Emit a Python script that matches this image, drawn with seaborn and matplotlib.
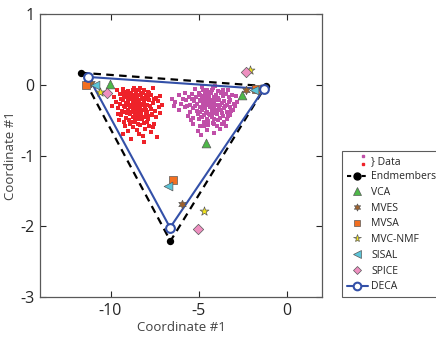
import numpy as np
import pandas as pd
import matplotlib
matplotlib.use("Agg")
import matplotlib.pyplot as plt
import seaborn as sns
from matplotlib.lines import Line2D
from matplotlib.legend_handler import HandlerBase

# ---- data ----
red_pts = [(-9.31,-0.06),(-9.02,-0.09),(-8.68,-0.04),(-8.41,-0.08),(-8.12,-0.07),(-7.83,-0.11),(-9.62,-0.08),(-8.55,-0.12),(-7.58,-0.05),
    (-9.82,-0.17),(-9.48,-0.13),(-9.22,-0.18),(-9.06,-0.15),(-8.91,-0.19),(-8.77,-0.14),(-8.62,-0.17),(-8.47,-0.16),(-8.29,-0.13),(-8.14,-0.19),
    (-7.98,-0.15),(-7.86,-0.18),(-7.69,-0.14),(-7.44,-0.19),(-7.18,-0.16),
    (-9.71,-0.24),(-9.44,-0.27),(-9.29,-0.22),(-9.13,-0.26),(-8.98,-0.23),(-8.86,-0.28),(-8.72,-0.21),(-8.58,-0.25),(-8.49,-0.29),(-8.38,-0.22),
    (-8.24,-0.27),(-8.09,-0.24),(-7.94,-0.29),(-7.79,-0.22),(-7.61,-0.26),(-7.33,-0.23),(-7.08,-0.28),
    (-9.58,-0.33),(-9.36,-0.37),(-9.16,-0.32),(-8.99,-0.36),(-8.83,-0.31),(-8.69,-0.38),(-8.56,-0.34),(-8.44,-0.39),(-8.31,-0.32),(-8.19,-0.36),
    (-8.04,-0.33),(-7.91,-0.38),(-7.72,-0.34),(-7.49,-0.37),(-7.27,-0.31),
    (-9.38,-0.43),(-9.12,-0.47),(-8.91,-0.42),(-8.71,-0.46),(-8.54,-0.44),(-8.39,-0.49),(-8.26,-0.41),(-8.08,-0.45),(-7.88,-0.48),(-7.66,-0.43),(-7.41,-0.46),
    (-9.21,-0.53),(-8.88,-0.56),(-8.62,-0.52),(-8.34,-0.57),(-8.11,-0.54),(-7.81,-0.58),(-7.52,-0.55),
    (-9.02,-0.66),(-8.49,-0.64),(-8.18,-0.72),(-7.71,-0.67),(-7.34,-0.74),(-8.86,-0.77),(-8.08,-0.81),(-9.3,-0.69),
    (-8.8,-0.2),(-8.65,-0.3),(-8.52,-0.19),(-8.35,-0.33),(-8.6,-0.41),(-8.92,-0.3),(-8.2,-0.2),(-8.45,-0.25),(-8.75,-0.36),(-8.33,-0.44),
    (-9.05,-0.4),(-8.0,-0.41),(-9.1,-0.1),(-8.58,-0.07),(-7.95,-0.52),(-9.5,-0.5),(-7.2,-0.4),(-9.9,-0.3),
    (-9.25,-0.3),(-9.0,-0.2),(-8.82,-0.11),(-8.7,-0.26),(-8.5,-0.36),(-8.4,-0.14),(-8.27,-0.38),(-8.15,-0.29),(-8.02,-0.2),(-7.9,-0.1),
    (-7.75,-0.3),(-7.55,-0.2),(-7.65,-0.41),(-8.95,-0.5),(-8.76,-0.52),(-8.45,-0.55),(-8.22,-0.48),(-8.6,-0.15),(-9.18,-0.38),(-9.4,-0.2),
    (-9.55,-0.41),(-9.05,-0.28),(-8.88,-0.39),(-8.63,-0.47),(-8.36,-0.28),(-8.13,-0.12),(-7.98,-0.35),(-7.85,-0.44),(-8.48,-0.42),(-8.97,-0.13),
    (-9.27,-0.11),(-8.73,-0.08),(-8.3,-0.05),(-8.05,-0.62),(-8.7,-0.6),(-9.15,-0.58),(-7.6,-0.6),(-8.4,-0.7)]

mag_pts = [(-5.2,-0.06),(-4.8,-0.03),(-4.5,-0.08),(-4.2,-0.05),(-3.9,-0.09),(-3.6,-0.07),(-4.65,-0.1),(-4.05,-0.02),(-3.35,-0.08),
    (-6.1,-0.15),(-5.8,-0.12),(-5.55,-0.18),(-5.35,-0.13),(-5.15,-0.17),(-4.98,-0.11),(-4.82,-0.16),(-4.67,-0.19),(-4.53,-0.13),(-4.41,-0.17),
    (-4.28,-0.12),(-4.15,-0.18),(-4.02,-0.14),(-3.88,-0.19),(-3.74,-0.12),(-3.6,-0.16),(-3.45,-0.13),(-3.28,-0.18),(-3.1,-0.14),(-2.9,-0.16),
    (-6.35,-0.24),(-6.0,-0.27),(-5.7,-0.22),(-5.48,-0.28),(-5.27,-0.23),(-5.08,-0.27),(-4.92,-0.21),(-4.77,-0.26),(-4.63,-0.23),(-4.5,-0.29),
    (-4.37,-0.22),(-4.24,-0.27),(-4.11,-0.24),(-3.98,-0.29),(-3.84,-0.21),(-3.7,-0.26),(-3.55,-0.23),(-3.39,-0.28),(-3.2,-0.22),(-3.0,-0.27),(-2.85,-0.24),
    (-6.1,-0.35),(-5.75,-0.32),(-5.5,-0.38),(-5.3,-0.33),(-5.1,-0.37),(-4.94,-0.31),(-4.79,-0.36),(-4.64,-0.33),(-4.51,-0.39),(-4.38,-0.32),
    (-4.25,-0.37),(-4.12,-0.34),(-3.99,-0.38),(-3.86,-0.31),(-3.72,-0.36),(-3.57,-0.33),(-3.41,-0.38),(-3.24,-0.32),(-3.05,-0.36),
    (-5.6,-0.44),(-5.3,-0.47),(-5.05,-0.42),(-4.86,-0.46),(-4.7,-0.43),(-4.55,-0.48),(-4.4,-0.41),(-4.26,-0.45),(-4.1,-0.49),(-3.95,-0.42),
    (-3.78,-0.47),(-3.6,-0.44),(-3.4,-0.48),(-3.2,-0.43),
    (-5.3,-0.55),(-4.95,-0.58),(-4.7,-0.53),(-4.45,-0.57),(-4.2,-0.54),(-3.95,-0.59),(-3.7,-0.55),(-3.45,-0.58),(-5.05,-0.66),(-4.55,-0.64),
    (-4.1,-0.68),(-3.8,-0.62),(-4.85,-0.71),
    (-4.45,-0.26),(-4.3,-0.31),(-4.18,-0.21),(-4.05,-0.28),(-3.92,-0.35),(-4.58,-0.16),(-4.72,-0.3),(-4.86,-0.23),(-4.33,-0.43),(-4.0,-0.18),
    (-3.8,-0.28),(-3.65,-0.4),(-4.15,-0.4),(-4.6,-0.4),(-4.95,-0.38),(-5.2,-0.3),(-5.4,-0.2),(-3.5,-0.3),(-3.3,-0.24),(-4.25,-0.08),
    (-4.75,-0.07),(-5.0,-0.49),(-4.48,-0.51),(-3.88,-0.5),(-3.15,-0.37),(-5.65,-0.3),(-5.9,-0.2),(-4.9,-0.14),(-4.38,-0.1),(-3.7,-0.1),
    (-4.1,-0.56),(-4.68,-0.58),(-5.45,-0.5),(-3.55,-0.52),(-2.95,-0.3),(-4.22,-0.33),(-4.52,-0.2),(-3.96,-0.22),(-4.82,-0.45),(-3.33,-0.44),
    (-6.5,-0.2),(-6.4,-0.3)]

endm_x = [-11.7, -1.2, -6.6]
endm_y = [0.17, -0.02, -2.21]
deca_x = [-11.25, -1.3, -6.62]
deca_y = [0.11, -0.06, -2.02]

methods = ["VCA", "MVES", "MVSA", "MVC-NMF", "SISAL", "SPICE"]
method_x = {
    "VCA": [-10.04, -2.54, -4.56],
    "MVES": [-11.1, -2.3, -5.97],
    "MVSA": [-11.38, -1.73, -6.44],
    "MVC-NMF": [-10.58, -2.1, -4.72],
    "SISAL": [-10.9, -1.84, -6.74],
    "SPICE": [-10.2, -2.34, -5.02],
}
method_y = {
    "VCA": [0.01, -0.14, -0.83],
    "MVES": [0.03, -0.07, -1.69],
    "MVSA": [0.0, -0.06, -1.35],
    "MVC-NMF": [-0.1, 0.21, -1.79],
    "SISAL": [0.0, -0.07, -1.43],
    "SPICE": [-0.12, 0.18, -2.04],
}

colors = {"VCA": "#4DB848", "MVES": "#A0622D", "MVSA": "#F26F21", "MVC-NMF": "#F2E41C",
          "SISAL": "#5BC5D8", "SPICE": "#EE8FC0"}
markers = {"VCA": "^", "MVES": (6, 1, 0), "MVSA": "s", "MVC-NMF": "*", "SISAL": "<", "SPICE": "D"}
sizes = {"VCA": 40, "MVES": 38, "MVSA": 26, "MVC-NMF": 45, "SISAL": 40, "SPICE": 28}
red_c = "#EE2229"
mag_c = "#C04FA8"
blue_c = "#3350A8"

sns.set_style("ticks")
plt.rcParams["font.family"] = ["Open Sans", "DejaVu Sans"]

fig = plt.figure(figsize=(4.36, 3.4), dpi=100)
ax = fig.add_axes([40 / 436, 43 / 340, 282 / 436, 283 / 340])

red_df = pd.DataFrame(red_pts, columns=["x", "y"])
mag_df = pd.DataFrame(mag_pts, columns=["x", "y"])
sns.scatterplot(data=red_df, x="x", y="y", ax=ax, color=red_c, s=5.5, linewidth=0, marker="s", zorder=2)
sns.scatterplot(data=mag_df, x="x", y="y", ax=ax, color=mag_c, s=5.5, linewidth=0, marker="s", zorder=2)

# closed triangles
sns.lineplot(x=endm_x + endm_x[:1], y=endm_y + endm_y[:1], sort=False, estimator=None, ax=ax,
             color="black", lw=1.6, dashes=(3.4, 2.4), zorder=3)
sns.scatterplot(x=endm_x, y=endm_y, ax=ax, color="black", s=28, linewidth=0, zorder=4)
sns.lineplot(x=deca_x + deca_x[:1], y=deca_y + deca_y[:1], sort=False, estimator=None, ax=ax,
             color=blue_c, lw=1.5, zorder=5)

for m in methods:
    sns.scatterplot(x=method_x[m], y=method_y[m], ax=ax, color=colors[m], marker=markers[m],
                    s=sizes[m], edgecolor="0.35", linewidth=0.5, zorder=6)

sns.scatterplot(x=deca_x, y=deca_y, ax=ax, color="white", edgecolor=blue_c, s=40, linewidth=1.5, zorder=7)

ax.set_xlim(-14, 2)
ax.set_ylim(-3, 1)
ax.set_xticks([-10, -5, 0])
ax.set_yticks([1, 0, -1, -2, -3])
ax.set_xticklabels(["-10", "-5", "0"])
ax.set_yticklabels(["1", "0", "-1", "-2", "-3"])
ax.tick_params(direction="in", length=4, width=0.8, labelsize=11.5, colors="0.15", pad=4,
               top=True, right=True)
for sp in ax.spines.values():
    sp.set_color("0.35")
    sp.set_linewidth(0.9)
ax.set_xlabel("Coordinate #1", fontsize=9.5, color="0.25", labelpad=2)
ax.set_ylabel("Coordinate #1", fontsize=9.5, color="0.25", labelpad=2)


class DataHandler(HandlerBase):
    def create_artists(self, legend, orig_handle, xdescent, ydescent, width, height, fontsize, trans):
        x = width * 0.8 - xdescent
        top = Line2D([x], [height * 1.0 - ydescent], marker="s", ms=1.6, color=mag_c, ls="none", transform=trans)
        bot = Line2D([x], [-0.1 * height - ydescent], marker="s", ms=1.6, color=red_c, ls="none", transform=trans)
        return [top, bot]


data_h = object()
handles = [data_h,
           Line2D([], [], color="black", ls=(0, (2.0, 1.5)), lw=1.5, marker="o", ms=5)]
labels = ["} Data", "Endmembers"]
for m in methods:
    handles.append(Line2D([], [], color=colors[m], marker=markers[m], ls="none",
                          ms=np.sqrt(sizes[m]) * 0.85, markeredgecolor="0.35", markeredgewidth=0.5))
    labels.append(m)
handles.append(Line2D([], [], color=blue_c, lw=1.5, marker="o", ms=5.5, markerfacecolor="white",
                      markeredgecolor=blue_c, markeredgewidth=1.5))
labels.append("DECA")

leg = fig.legend(handles, labels, loc="upper left", bbox_to_anchor=(342 / 436, 1 - 151 / 340),
                 handler_map={data_h: DataHandler()}, fontsize=7.5, frameon=True, fancybox=False,
                 edgecolor="0.2", borderaxespad=0, handlelength=2.0, handletextpad=0.35,
                 labelspacing=0.45, borderpad=0.45)
leg.get_frame().set_linewidth(0.8)

fig.savefig("out.png", dpi=100)
